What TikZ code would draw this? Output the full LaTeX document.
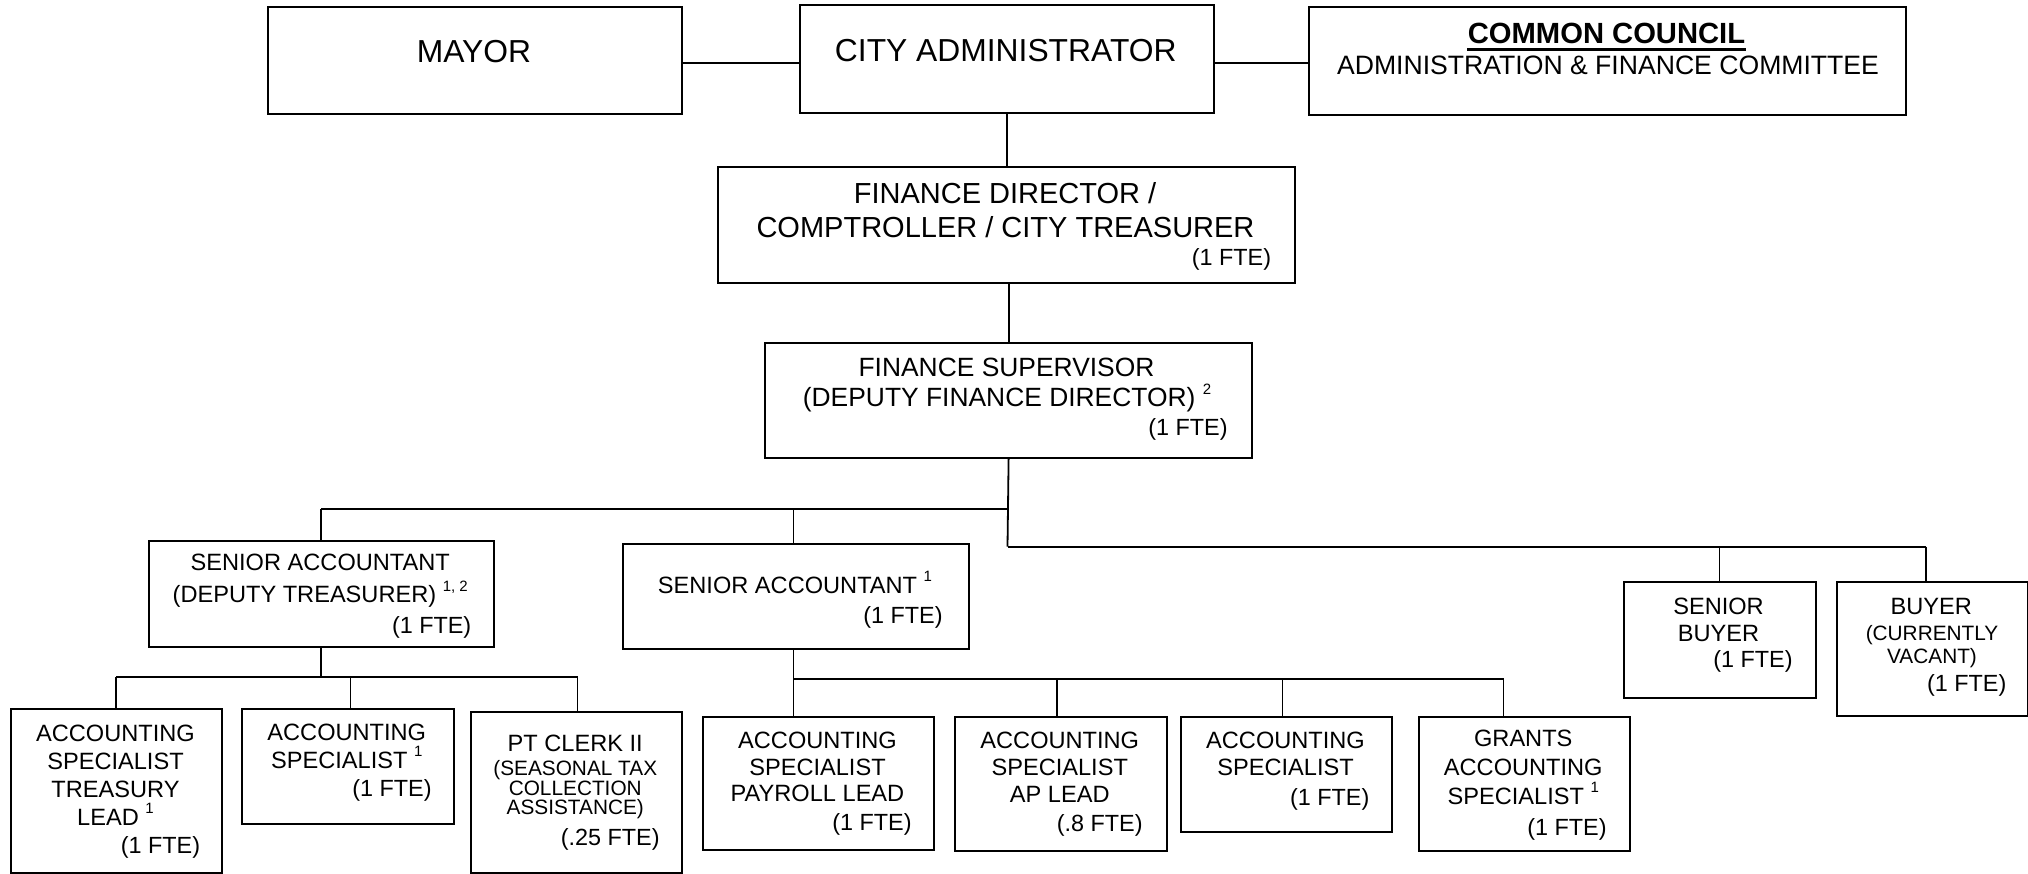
\documentclass[tikz,border=0pt]{standalone}
\usepackage{fontspec}
\setmainfont{Liberation Sans}
\newcommand{\supnote}[1]{\raisebox{0.48em}{\fontsize{7.5}{8}\selectfont #1}}
\begin{document}
\begin{tikzpicture}[x=0.5pt,y=-0.5pt]
\tikzset{
  box/.style={draw, line width=1.1pt, inner sep=0pt, anchor=north west},
  conn/.style={line width=0.9pt},
  lbl/.style={anchor=base, inner sep=0pt},
  fte/.style={anchor=base east, inner sep=0pt, font=\fontsize{11.7}{12}\selectfont},
  Fa/.style={font=\fontsize{15.9}{17}\selectfont},
  Fb/.style={font=\fontsize{14.5}{16}\selectfont},
  Fcc/.style={font=\bfseries\fontsize{14.6}{16}\selectfont},
  Fcs/.style={font=\fontsize{13.3}{15}\selectfont},
  Fs/.style={font=\fontsize{13.2}{15}\selectfont},
  Fn/.style={font=\fontsize{11.8}{13}\selectfont},
  Fsm/.style={font=\fontsize{10.4}{11}\selectfont}
}
\fill[white] (0,0) rectangle (2028,873);
\useasboundingbox (0,0) rectangle (2028,873);

% ---------- boxes ----------
\node[box, minimum width=207pt,    minimum height=53.5pt]  (mayor) at (267,6) {};
\node[box, minimum width=206.75pt, minimum height=54pt]    (ca)    at (799,4) {};
\node[box, minimum width=298.5pt,  minimum height=53.75pt] (cc)    at (1308,6) {};
\node[box, minimum width=288.5pt,  minimum height=58pt]    (fd)    at (717,166) {};
\node[box, minimum width=243.5pt,  minimum height=57.5pt]  (fs)    at (764,341.5) {};
\node[box, minimum width=172.75pt, minimum height=53pt]    (sa1)   at (147.5,540) {};
\node[box, minimum width=173pt,    minimum height=52.75pt] (sa2)   at (622,542.5) {};
\node[box, minimum width=96pt,     minimum height=57.75pt] (sb)    at (1622.5,581) {};
\node[box, minimum width=95.25pt,  minimum height=67pt]    (buy)   at (1836,581) {};
\node[box, minimum width=105.5pt,  minimum height=81.75pt] (ast)   at (10,708) {};
\node[box, minimum width=105.75pt, minimum height=57.5pt]  (as1)   at (241,708) {};
\node[box, minimum width=105.75pt, minimum height=80.25pt] (ptc)   at (469.5,711) {};
\node[box, minimum width=115.5pt,  minimum height=66.5pt]  (pay)   at (702,715.5) {};
\node[box, minimum width=105.75pt, minimum height=67pt]    (ap)    at (954,715.5) {};
\node[box, minimum width=105.5pt,  minimum height=57.75pt] (as3)   at (1180,715.5) {};
\node[box, minimum width=105.75pt, minimum height=67pt]    (gr)    at (1417.5,715.5) {};

% ---------- connectors ----------
\path ([yshift=-1.25pt]mayor.east) coordinate (m1);
\draw[conn] (m1) -- (m1 -| ca.west);
\path ([yshift=-2pt]ca.east) coordinate (m2);
\draw[conn] (m2) -- (m2 -| cc.west);
\draw[conn] (ca.south) -- (ca.south |- fd.north);
\draw[conn] (fs.north) -- (fs.north |- fd.south);

\coordinate (j1) at (1007.5,509);
\coordinate (j2) at (1007.5,546.7);
\draw[conn] (fs.south) -- (j2);
\coordinate (b1l) at (321,509);
\coordinate (b1m) at (793.5,509);
\draw[conn] (b1l) -- (j1);
\draw[conn] (b1l) -- (b1l |- sa1.north);
\draw[conn] (b1m) -- (b1m |- sa2.north);
\coordinate (b2a) at (1719.5,546.7);
\coordinate (b2b) at (1926,546.7);
\draw[conn] (j2) -- (b2b);
\draw[conn] (b2a) -- (b2a |- sb.north);
\draw[conn] (b2b) -- (b2b |- buy.north);

\coordinate (c1a) at (116,676.7);
\coordinate (c1b) at (350.5,676.7);
\coordinate (c1c) at (577.5,676.7);
\coordinate (c1m) at (321,676.7);
\draw[conn] (c1m |- sa1.south) -- (c1m);
\draw[conn] (c1a) -- (c1c);
\draw[conn] (c1a) -- (c1a |- ast.north);
\draw[conn] (c1b) -- (c1b |- as1.north);
\draw[conn] (c1c) -- (c1c |- ptc.north);

\coordinate (c2a) at (793.5,679.3);
\coordinate (c2b) at (1056.7,679.3);
\coordinate (c2c) at (1282.4,679.3);
\coordinate (c2d) at (1503.5,679.3);
\draw[conn] (c2a |- sa2.south) -- (c2a);
\draw[conn] (c2a) -- (c2d);
\draw[conn] (c2a) -- (c2a |- pay.north);
\draw[conn] (c2b) -- (c2b |- ap.north);
\draw[conn] (c2c) -- (c2c |- as3.north);
\draw[conn] (c2d) -- (c2d |- gr.north);

% ---------- texts ----------
\node[lbl,Fa] (tmayor) at (474,62) {MAYOR};
\node[lbl,Fa] (tca) at (1005.75,61) {CITY ADMINISTRATOR};
\node[lbl,Fcc] (tcc1) at (1606.5,43.3) {COMMON COUNCIL};
\draw[line width=1.2pt] ([yshift=-3pt]tcc1.base west) -- ([yshift=-3pt]tcc1.base east);
\node[lbl,Fcs] (tcc2) at (1608,74) {ADMINISTRATION \& FINANCE COMMITTEE};

\node[lbl,Fb] (tfd1) at (1005,203.3) {FINANCE DIRECTOR /};
\node[lbl,Fb] (tfd2) at (1005.5,237.3) {COMPTROLLER / CITY TREASURER};
\node[fte] (tfd3) at (1271.5,265) {(1 FTE)};

\node[lbl,Fs] (tfs1) at (1006.5,376) {FINANCE SUPERVISOR};
\node[lbl,Fs] (tfs2) at (1007,406.7) {(DEPUTY FINANCE DIRECTOR) \supnote{2}};
\node[fte] (tfs3) at (1228,435) {(1 FTE)};

\node[lbl,Fn] (tsa11) at (320.25,570) {SENIOR ACCOUNTANT};
\node[lbl,Fn] (tsa12) at (320.25,602.7) {(DEPUTY TREASURER) \supnote{1, 2}};
\node[fte] (tsa13) at (471.7,633) {(1 FTE)};

\node[lbl,Fn] (tsa21) at (795,593.3) {SENIOR ACCOUNTANT \supnote{1}};
\node[fte] (tsa22) at (943,623) {(1 FTE)};

\node[lbl,Fn] (tsb1) at (1718.5,614) {SENIOR};
\node[lbl,Fn] (tsb2) at (1718.5,641.7) {BUYER};
\node[fte] (tsb3) at (1793,667) {(1 FTE)};

\node[lbl,Fn] (tbu1) at (1931.25,614) {BUYER};
\node[lbl,Fsm] (tbu2) at (1932,640) {(CURRENTLY};
\node[lbl,Fsm] (tbu3) at (1932,663.3) {VACANT)};
\node[fte] (tbu4) at (2006.7,691.7) {(1 FTE)};

\node[lbl,Fn] (tast1) at (115.5,741) {ACCOUNTING};
\node[lbl,Fn] (tast2) at (115.5,769) {SPECIALIST};
\node[lbl,Fn] (tast3) at (115.5,797) {TREASURY};
\node[lbl,Fn] (tast4) at (115.5,825) {LEAD \supnote{1}};
\node[fte] (tast5) at (200.5,853) {(1 FTE)};

\node[lbl,Fn] (tas11) at (346.75,740) {ACCOUNTING};
\node[lbl,Fn] (tas12) at (346.75,768) {SPECIALIST \supnote{1}};
\node[fte] (tas13) at (432,796.7) {(1 FTE)};

\node[lbl,Fn] (tptc1) at (575.25,751.7) {PT CLERK II};
\node[lbl,Fsm] (tptc2) at (575.25,775) {(SEASONAL TAX};
\node[lbl,Fsm] (tptc3) at (575.25,795) {COLLECTION};
\node[lbl,Fsm] (tptc4) at (575.25,814.5) {ASSISTANCE)};
\node[fte] (tptc5) at (660,845) {(.25 FTE)};

\node[lbl,Fn] (tpay1) at (817.5,748) {ACCOUNTING};
\node[lbl,Fn] (tpay2) at (817.5,775) {SPECIALIST};
\node[lbl,Fn] (tpay3) at (817.5,801.7) {PAYROLL LEAD};
\node[fte] (tpay4) at (912,830) {(1 FTE)};

\node[lbl,Fn] (tap1) at (1059.75,748) {ACCOUNTING};
\node[lbl,Fn] (tap2) at (1059.75,775) {SPECIALIST};
\node[lbl,Fn] (tap3) at (1059.75,802) {AP LEAD};
\node[fte] (tap4) at (1143,831.7) {(.8 FTE)};

\node[lbl,Fn] (tas31) at (1285.5,748) {ACCOUNTING};
\node[lbl,Fn] (tas32) at (1285.5,775) {SPECIALIST};
\node[fte] (tas33) at (1369.7,805) {(1 FTE)};

\node[lbl,Fn] (tgr1) at (1523.25,746.7) {GRANTS};
\node[lbl,Fn] (tgr2) at (1523.25,775) {ACCOUNTING};
\node[lbl,Fn] (tgr3) at (1523.25,804) {SPECIALIST \supnote{1}};
\node[fte] (tgr4) at (1607,835) {(1 FTE)};
\end{tikzpicture}
\end{document}
